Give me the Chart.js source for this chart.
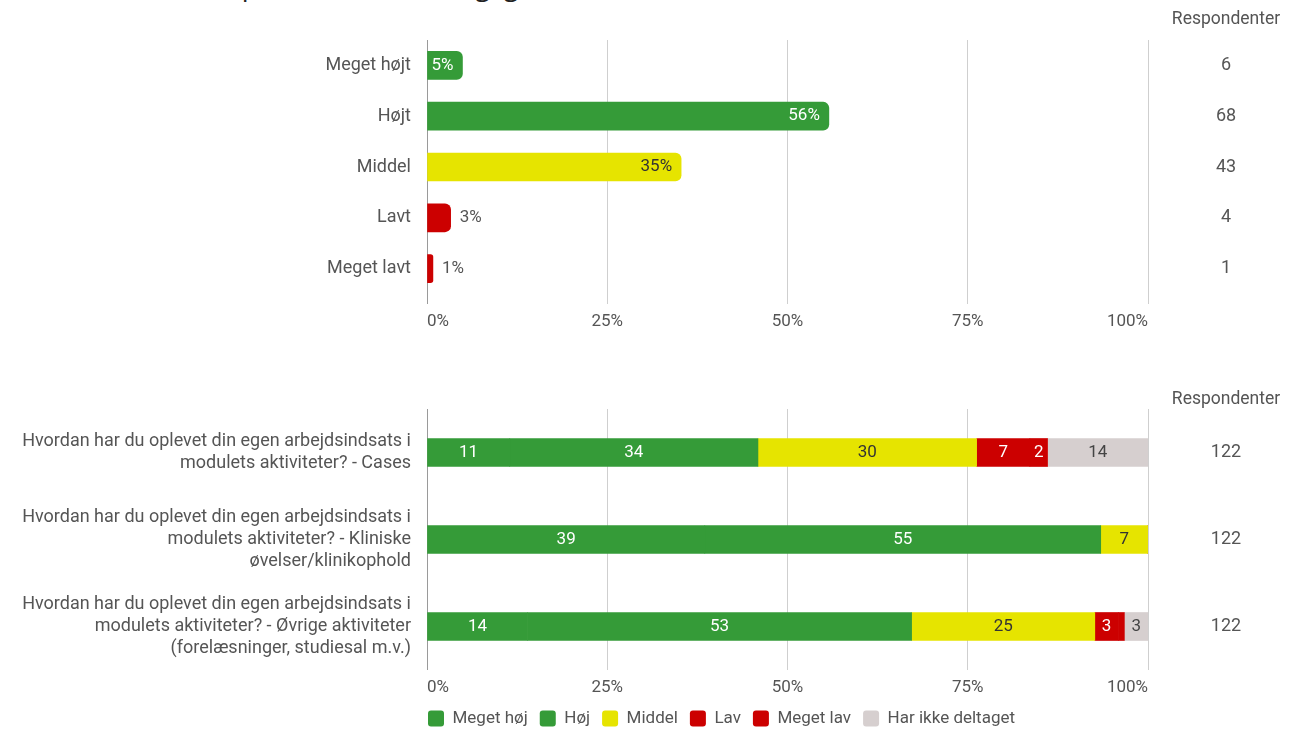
<!DOCTYPE html>
<html lang="da">
<head>
<meta charset="utf-8">
<title>Modulevaluering</title>
<script src="https://cdn.jsdelivr.net/npm/chart.js@4.4.1/dist/chart.umd.min.js"></script>
<style>
  html, body { margin: 0; padding: 0; background: #fff; overflow: hidden; width: 1296px; height: 731px; }
  #title { position: absolute; left: 20px; top: -29px; font: 27px/27px "Open Sans", sans-serif; color: #222; white-space: nowrap; }
  canvas { position: absolute; left: 0; }
  #levelChart { top: 0; }
  #effortChart { top: 345px; }
</style>
</head>
<body>
<div id="title">Hvordan har du oplevet modulets faglige niveau</div>
<canvas id="levelChart" width="1296" height="345"></canvas>
<canvas id="effortChart" width="1296" height="392"></canvas>
<script>
// ---- Niveau: antal svar pr. svarmulighed ----
const levelLabels = ['Meget højt', 'Højt', 'Middel', 'Lavt', 'Meget lavt'];
const levelCounts = [6, 68, 43, 4, 1];

// ---- Egen arbejdsindsats: antal svar pr. aktivitet ----
const effortQuestions = [
  ['Hvordan har du oplevet din egen arbejdsindsats i', 'modulets aktiviteter? - Cases'],
  ['Hvordan har du oplevet din egen arbejdsindsats i', 'modulets aktiviteter? - Kliniske', 'øvelser/klinikophold'],
  ['Hvordan har du oplevet din egen arbejdsindsats i', 'modulets aktiviteter? - Øvrige aktiviteter', '(forelæsninger, studiesal m.v.)']
];
const effortCategories = ['Meget høj', 'Høj', 'Middel', 'Lav', 'Meget lav', 'Har ikke deltaget'];
const effortMegetHoej = [14, 47, 17];
const effortHoej = [42, 67, 65];
const effortMiddel = [37, 8, 31];
const effortLav = [9, 0, 4];
const effortMegetLav = [3, 0, 1];
const effortIkkeDeltaget = [17, 0, 4];

const percentTicks = [0, 25, 50, 75, 100];
const respondentHeader = 'Respondenter';

// ---- Udseende ----
const FONT = 'Roboto, "Noto Sans", sans-serif';
const GREEN = '#359b38';
const YELLOW = '#e6e400';
const RED = '#cc0000';
const GREY = '#d6cfcf';
const TEXT = '#555555';
const levelColors = [GREEN, GREEN, YELLOW, RED, RED];
const levelTextColors = ['#ffffff', '#ffffff', '#333333', '#ffffff', '#ffffff'];
const effortColors = [GREEN, GREEN, YELLOW, RED, RED, GREY];
const effortTextColors = ['#ffffff', '#ffffff', '#333333', '#ffffff', '#ffffff', '#444444'];

const sum = arr => arr.reduce((a, b) => a + b, 0);
const levelTotal = sum(levelCounts);
const levelPercent = levelCounts.map(c => c / levelTotal * 100);

const effortSeries = [effortMegetHoej, effortHoej, effortMiddel, effortLav, effortMegetLav, effortIkkeDeltaget];
const effortTotals = effortQuestions.map((_, i) => sum(effortSeries.map(s => s[i])));

// Kolonnen "Respondenter" og procentakse-etiketterne
function sidePanel(values, headerOffset, tickOffset) {
  return {
    id: 'sidePanel',
    afterDraw(chart) {
      const { ctx, chartArea } = chart;
      const xs = chart.scales.x, ys = chart.scales.y;
      ctx.save();
      ctx.fillStyle = TEXT;
      ctx.textBaseline = 'middle';
      ctx.textAlign = 'center';
      ctx.font = '17.5px ' + FONT;
      const colX = 1226;
      ctx.fillText(respondentHeader, colX, chartArea.top + headerOffset);
      ctx.font = '18px ' + FONT;
      values.forEach((v, i) => ctx.fillText(String(v), colX, ys.getPixelForValue(i)));
      ctx.font = '17px ' + FONT;
      const last = percentTicks.length - 1;
      percentTicks.forEach((t, i) => {
        ctx.textAlign = i === 0 ? 'left' : (i === last ? 'right' : 'center');
        ctx.fillText(t + '%', xs.getPixelForValue(t), chartArea.bottom + tickOffset);
      });
      ctx.restore();
    }
  };
}

// Procent-etiket ved enden af hver søjle (inde i søjlen hvis der er plads)
const levelLabelsPlugin = {
  id: 'levelValueLabels',
  afterDatasetsDraw(chart) {
    const { ctx } = chart;
    const meta = chart.getDatasetMeta(0);
    ctx.save();
    ctx.font = '17px ' + FONT;
    ctx.textBaseline = 'middle';
    meta.data.forEach((bar, i) => {
      const text = Math.round(levelPercent[i]) + '%';
      const w = ctx.measureText(text).width;
      const len = bar.x - bar.base;
      if (len >= w + 10) {
        ctx.textAlign = 'right';
        ctx.fillStyle = levelTextColors[i];
        ctx.fillText(text, bar.x - 9, bar.y);
      } else {
        ctx.textAlign = 'left';
        ctx.fillStyle = TEXT;
        ctx.fillText(text, bar.x + 9, bar.y);
      }
    });
    ctx.restore();
  }
};

// Afrundede procenttal midt i hvert segment
const effortLabelsPlugin = {
  id: 'effortValueLabels',
  afterDatasetsDraw(chart) {
    const { ctx } = chart;
    ctx.save();
    ctx.font = '17px ' + FONT;
    ctx.textBaseline = 'middle';
    ctx.textAlign = 'center';
    chart.data.datasets.forEach((ds, d) => {
      const meta = chart.getDatasetMeta(d);
      meta.data.forEach((bar, i) => {
        const v = ds.data[i];
        if (!v) return;
        const text = String(Math.round(v));
        const w = ctx.measureText(text).width;
        const len = Math.abs(bar.x - bar.base);
        if (len < w + 6) return;
        ctx.fillStyle = effortTextColors[d];
        ctx.fillText(text, (bar.x + bar.base) / 2, bar.y);
      });
    });
    ctx.restore();
  }
};

// Forklaringen starter ud for 0%-linjen
const legendAnchor = {
  id: 'legendAnchor',
  afterLayout(chart) {
    const lg = chart.legend;
    if (!lg) return;
    const w = lg.right - lg.left;
    lg.left = chart.chartArea.left - 11;
    lg.right = lg.left + w + 20;
  }
};

const gridColor = ctx => (ctx.tick && ctx.tick.value === 0) ? '#9a9a9a' : '#cfcfcf';

function xScale(tickLength, height) {
  return {
    type: 'linear',
    min: 0, max: 100,
    stacked: true,
    ticks: { display: false, stepSize: 25 },
    grid: { color: gridColor, lineWidth: 1, drawTicks: tickLength > 0, tickLength: tickLength },
    border: { display: false },
    afterFit(scale) { scale.height = height; }
  };
}

function yScale() {
  return {
    stacked: true,
    grid: { display: false, drawTicks: false },
    border: { display: false },
    ticks: { padding: 16, color: TEXT, font: { family: FONT, size: 18, lineHeight: 1.2 } },
    afterFit(scale) { scale.width = 427; }
  };
}

new Chart(document.getElementById('levelChart'), {
  type: 'bar',
  data: {
    labels: levelLabels,
    datasets: [{
      data: levelPercent,
      backgroundColor: levelColors,
      borderRadius: 6,
      borderSkipped: 'start',
      barThickness: 28
    }]
  },
  options: {
    indexAxis: 'y',
    responsive: false,
    animation: false,
    layout: { padding: { top: 40, right: 148, bottom: 0, left: 0 } },
    scales: { x: xScale(10, 51), y: yScale() },
    plugins: { legend: { display: false }, tooltip: { enabled: false } }
  },
  plugins: [levelLabelsPlugin, sidePanel(levelCounts, -20, 28)]
});

new Chart(document.getElementById('effortChart'), {
  type: 'bar',
  data: {
    labels: effortQuestions,
    datasets: effortCategories.map((name, d) => ({
      label: name,
      data: effortSeries[d].map((c, i) => c / effortTotals[i] * 100),
      backgroundColor: effortColors[d],
      borderWidth: 0,
      barThickness: 28
    }))
  },
  options: {
    indexAxis: 'y',
    responsive: false,
    animation: false,
    layout: { padding: { top: 64, right: 148, bottom: 0, left: 0 } },
    scales: { x: xScale(0, 28), y: yScale() },
    plugins: {
      legend: {
        display: true,
        position: 'bottom',
        align: 'start',
        fullSize: false,
        labels: {
          boxWidth: 16, boxHeight: 16, padding: 12,
          useBorderRadius: true, borderRadius: 3,
          color: TEXT, font: { family: FONT, size: 17 }
        }
      },
      tooltip: { enabled: false }
    }
  },
  plugins: [effortLabelsPlugin, legendAnchor, sidePanel(effortTotals, -9, 18)]
});
</script>
</body>
</html>
